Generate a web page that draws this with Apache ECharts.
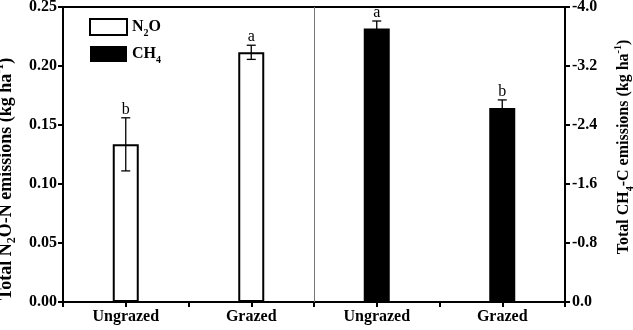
<!DOCTYPE html>
<html>
<head>
<meta charset="utf-8">
<script src="https://cdn.jsdelivr.net/npm/echarts@6/dist/echarts.min.js"></script>
<style>
html, body { margin: 0; padding: 0; background: #fff; }
#chartsdiv { width: 633px; height: 330px; }
</style>
</head>
<body>
<div id="chartsdiv"></div>
<script>
// 数据
var categories = ['Ungrazed', 'Grazed', 'Ungrazed', 'Grazed'];
var n2oValues = [0.1336, 0.2116];
var n2oErrors = [0.0225, 0.0060];
var n2oLetters = ['b', 'a'];
var ch4Values = [-3.71, -2.63];
var ch4Errors = [0.10, 0.11];
var ch4Letters = ['a', 'b'];
var leftTicks = [0, 0.05, 0.10, 0.15, 0.20, 0.25];
var rightTicks = [-4.0, -3.2, -2.4, -1.6, -0.8, 0.0];

var FONT = 'Liberation Serif';

// 上下标富文本样式
function makeRich(size) {
    var small = Math.round(size * 0.65);
    var lh = Math.round(size * 1.35);
    return {
        b: { fontFamily: FONT, fontWeight: 'bold', fontSize: size, lineHeight: lh, color: '#000' },
        s: { fontFamily: FONT, fontWeight: 'bold', fontSize: small, lineHeight: small, verticalAlign: 'bottom', color: '#000' },
        p: { fontFamily: FONT, fontWeight: 'bold', fontSize: small, lineHeight: small, verticalAlign: 'top', color: '#000' }
    };
}

// 分类在数值轴上的位置 0.5, 1.5 ...
function pos(i) { return i + 0.5; }

var n2oBars = [], ch4Bars = [], n2oErr = [], ch4Err = [];
n2oValues.forEach(function (v, i) {
    n2oBars.push([pos(i), v]);
    n2oErr.push([pos(i), v - n2oErrors[i], v + n2oErrors[i], i]);
});
ch4Values.forEach(function (v, i) {
    ch4Bars.push([pos(i + 2), v]);
    ch4Err.push([pos(i + 2), v + ch4Errors[i], v - ch4Errors[i], i]);
});

// 误差线 + 显著性字母
function makeErr(letters) {
    return function (params, api) {
        var x = api.value(0);
        var a = api.coord([x, api.value(1)]);
        var b = api.coord([x, api.value(2)]);
        var top = Math.min(a[1], b[1]);
        var cap = 4.5;
        var st = { stroke: '#000', lineWidth: 1.3 };
        return {
            type: 'group',
            children: [
                { type: 'line', shape: { x1: a[0], y1: a[1], x2: b[0], y2: b[1] }, style: st },
                { type: 'line', shape: { x1: a[0] - cap, y1: a[1], x2: a[0] + cap, y2: a[1] }, style: st },
                { type: 'line', shape: { x1: b[0] - cap, y1: b[1], x2: b[0] + cap, y2: b[1] }, style: st },
                { type: 'text', x: a[0], y: top, style: { text: letters[api.value(3)], fontFamily: FONT, fontSize: 16, fill: '#000', align: 'center', verticalAlign: 'bottom' } }
            ]
        };
    };
}

var myChart = echarts.init(document.getElementById('chartsdiv'));
var option = {
    animation: false,
    grid: { left: 63, right: 68, top: 7, bottom: 28, outerBoundsMode: 'none', containLabel: false,
        show: true, borderColor: '#000', borderWidth: 2 },
    legend: {
        orient: 'vertical', left: 84, top: 13, itemWidth: 37, itemHeight: 16, itemGap: 8,
        icon: 'rect',
        data: ['N2O', 'CH4'],
        formatter: function (name) {
            return name === 'N2O' ? '{b|N}{s|2}{b|O}' : '{b|CH}{s|4}';
        },
        textStyle: { rich: makeRich(16) }
    },
    xAxis: {
        type: 'value', min: 0, max: 4, interval: 0.5,
        splitLine: { show: false },
        axisLine: { lineStyle: { color: '#000', width: 2 } },
        axisTick: { length: 5, lineStyle: { color: '#000', width: 2 } },
        axisLabel: {
            fontFamily: FONT, fontWeight: 'bold', fontSize: 16, color: '#000', margin: 7,
            formatter: function (v) {
                var i = Math.round(v - 0.5);
                return Math.abs(v - pos(i)) < 1e-6 && categories[i] ? categories[i] : '';
            }
        }
    },
    yAxis: [{
        type: 'value', min: leftTicks[0], max: leftTicks[leftTicks.length - 1], interval: 0.05,
        position: 'left',
        splitLine: { show: false },
        axisLine: { show: true, lineStyle: { color: '#000', width: 2 } },
        axisTick: { show: true, length: 5, lineStyle: { color: '#000', width: 2 } },
        axisLabel: { fontFamily: FONT, fontWeight: 'bold', fontSize: 16, color: '#000', margin: 6,
            formatter: function (v) { return v.toFixed(2); } },
        name: '{b|Total N}{s|2}{b|O-N emissions (kg ha}{p|-1}{b|)}',
        nameLocation: 'middle', nameGap: 39,
        nameTextStyle: { rich: makeRich(18), padding: [0, 49, 0, 0] }
    }, {
        type: 'value', min: rightTicks[0], max: rightTicks[rightTicks.length - 1], interval: 0.8,
        inverse: true, position: 'right',
        splitLine: { show: false },
        axisLine: { show: true, lineStyle: { color: '#000', width: 2 } },
        axisTick: { show: true, length: 5, lineStyle: { color: '#000', width: 2 } },
        axisLabel: { fontFamily: FONT, fontWeight: 'bold', fontSize: 16, color: '#000', margin: 7,
            formatter: function (v) { return v.toFixed(1); } },
        name: '{b|Total CH}{s|4}{b|-C emissions (kg ha}{p|-1}{b|)}',
        nameLocation: 'middle', nameGap: 48,
        nameTextStyle: { rich: makeRich(16), padding: [0, 0, 0, 15] }
    }],
    series: [{
        name: 'N2O', type: 'bar', yAxisIndex: 0, barWidth: 26, barGap: '-100%',
        itemStyle: { color: '#fff', borderColor: '#000', borderWidth: 2 },
        data: n2oBars,
        markLine: {
            silent: true, symbol: 'none', label: { show: false },
            lineStyle: { color: '#777', width: 1, type: 'solid' },
            data: [{ xAxis: 2 }]
        }
    }, {
        name: 'CH4', type: 'bar', yAxisIndex: 1, barWidth: 26, barGap: '-100%',
        itemStyle: { color: '#000' },
        data: ch4Bars
    }, {
        type: 'custom', yAxisIndex: 0, renderItem: makeErr(n2oLetters), data: n2oErr, z: 5
    }, {
        type: 'custom', yAxisIndex: 1, renderItem: makeErr(ch4Letters), data: ch4Err, z: 5
    }]
};
myChart.setOption(option);
</script>
</body>
</html>
